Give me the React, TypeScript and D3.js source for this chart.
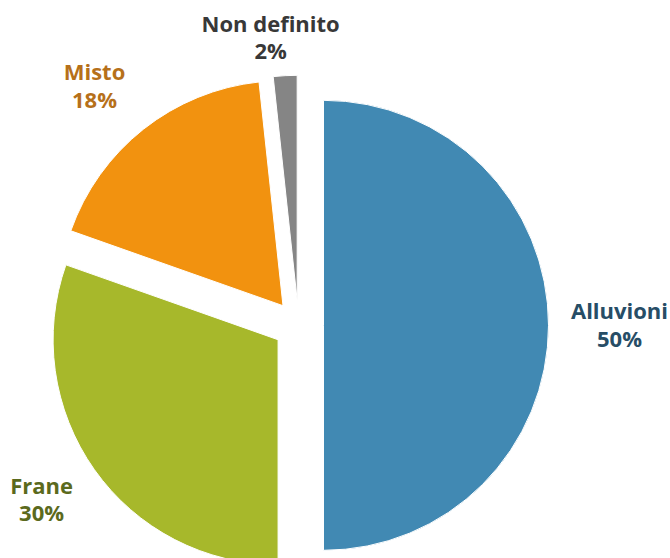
import React, { useMemo } from 'react';
import * as d3 from 'd3';

// dati del grafico (etichette arrotondate)
const categories = ['Alluvioni', 'Frane', 'Misto', 'Non definito'];
const values = [50, 30.4, 17.9, 1.7];
const sliceColors = ['#4189B3', '#A7B82B', '#F2920F', '#858585'];
const labelColors = ['#274D66', '#5B6A1D', '#B6701A', '#383838'];

// layout
const WIDTH = 670;
const HEIGHT = 558;
const CENTER = { x: 298.5, y: 325.3 };
const RADIUS = 225;
const EXPLODE = 25;
const LABEL_RADIUS = 316;
const LINE_GAP = 27.5;
// piccoli spostamenti manuali delle etichette (come nel grafico originale)
const labelNudge: Record<string, [number, number]> = {
  Alluvioni: [5, 0],
  Frane: [1, -8],
  Misto: [-8, 9],
  'Non definito': [-11, 28],
};

const App: React.FC = () => {
  const slices = useMemo(() => {
    const pie = d3.pie<number>().sort(null).value(d => d);
    return pie(values);
  }, []);

  const arc = d3.arc<d3.PieArcDatum<number>>().innerRadius(0).outerRadius(RADIUS);
  const total = d3.sum(values);

  return (
    <svg
      width={WIDTH}
      height={HEIGHT}
      style={{ position: 'absolute', left: 0, top: 0, background: '#fff' }}
    >
      <g transform={`translate(${CENTER.x},${CENTER.y})`}>
        {slices.map((s, i) => {
          const mid = (s.startAngle + s.endAngle) / 2;
          const dx = Math.sin(mid) * EXPLODE;
          const dy = -Math.cos(mid) * EXPLODE;
          return (
            <path
              key={categories[i]}
              d={arc(s) || ''}
              transform={`translate(${dx},${dy})`}
              fill={sliceColors[i]}
              stroke="#fff"
              strokeWidth={1}
            />
          );
        })}

        {/* etichette */}
        {slices.map((s, i) => {
          const mid = (s.startAngle + s.endAngle) / 2;
          const nudge = labelNudge[categories[i]] || [0, 0];
          const lx = Math.sin(mid) * LABEL_RADIUS + nudge[0];
          const ly = -Math.cos(mid) * LABEL_RADIUS + nudge[1];
          const pct = Math.round((values[i] / total) * 100);
          return (
            <text
              key={`lbl-${i}`}
              textAnchor="middle"
              fontFamily="'Open Sans', sans-serif"
              fontWeight="bold"
              fontSize={22}
              fill={labelColors[i]}
            >
              <tspan x={lx} y={ly - 6}>{categories[i]}</tspan>
              <tspan x={lx} y={ly - 6 + LINE_GAP}>{`${pct}%`}</tspan>
            </text>
          );
        })}
      </g>
    </svg>
  );
};

export default App;
